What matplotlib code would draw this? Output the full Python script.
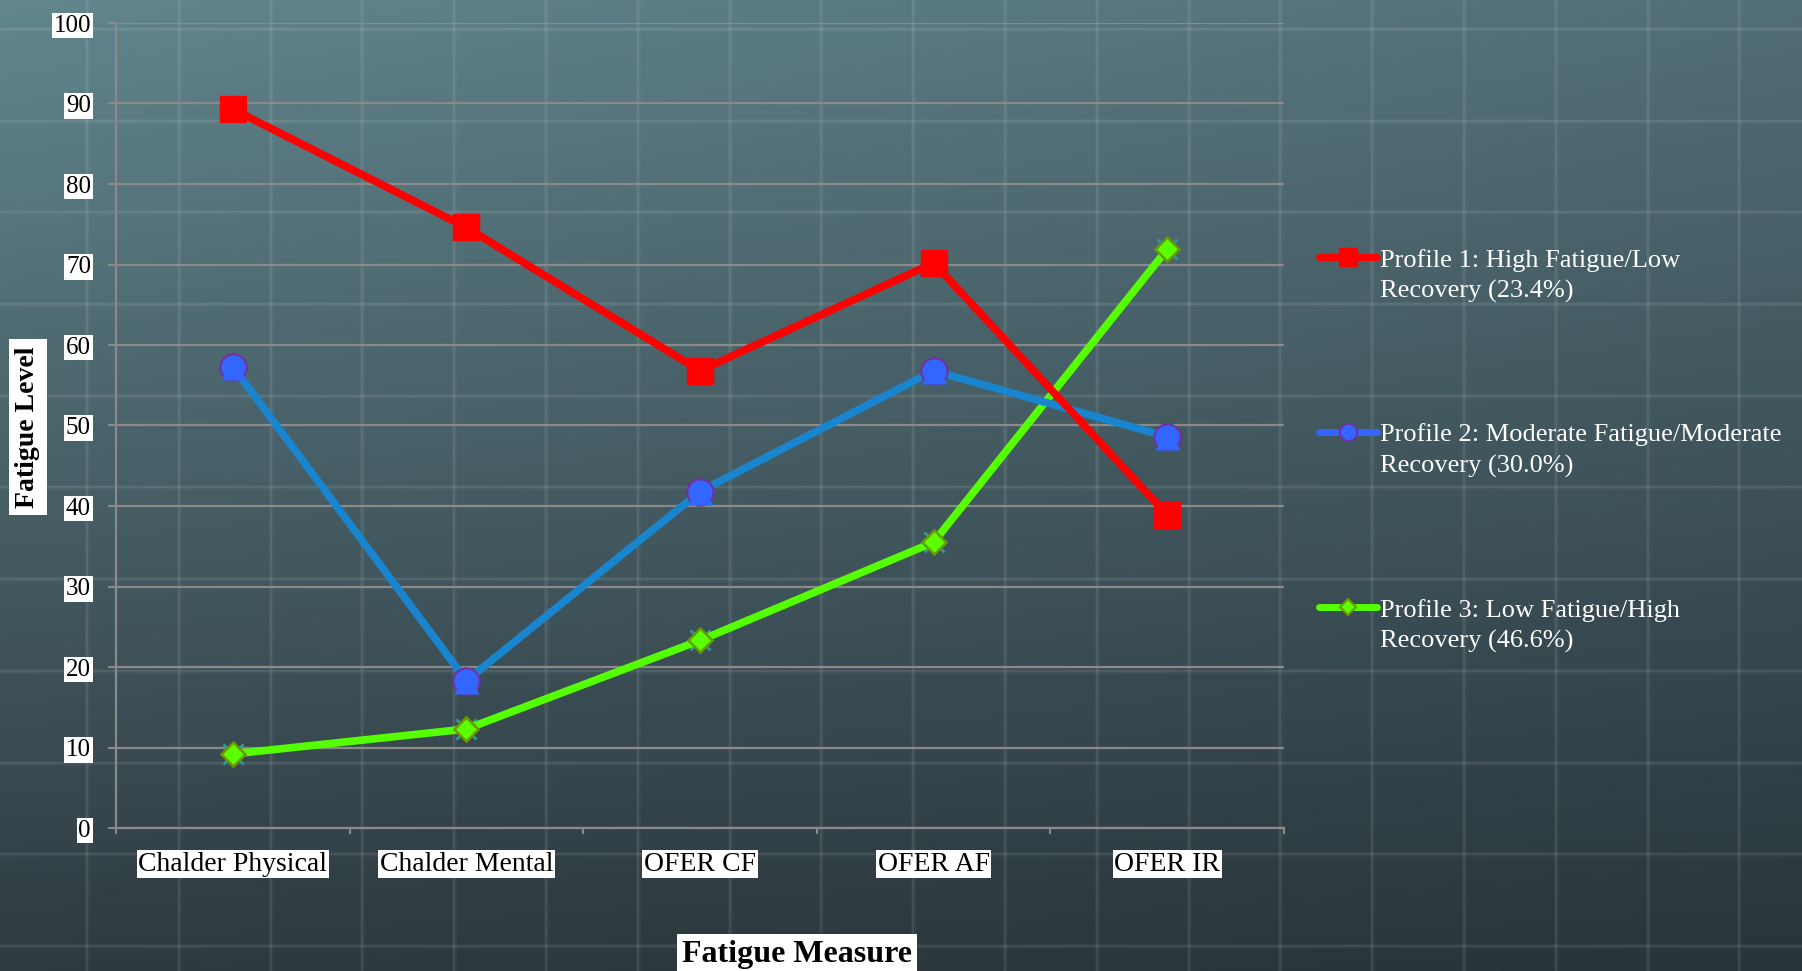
import numpy as np
import matplotlib.pyplot as plt

plt.rcParams['font.family'] = ['Liberation Serif', 'DejaVu Serif']

# Fatigue profile means per measure
categories = ['Chalder Physical', 'Chalder Mental', 'OFER CF', 'OFER AF', 'OFER IR']
profile1 = [89.3, 74.6, 56.8, 70.2, 38.9]
profile2 = [57.3, 18.3, 41.8, 56.8, 48.6]
profile3 = [9.2, 12.3, 23.3, 35.5, 71.9]
labels = ['Profile 1: High Fatigue/Low\nRecovery (23.4%)',
          'Profile 2: Moderate Fatigue/Moderate\nRecovery (30.0%)',
          'Profile 3: Low Fatigue/High\nRecovery (46.6%)']
yticks = list(range(0, 101, 10))

W, H = 1802, 971
fig = plt.figure(figsize=(W / 100, H / 100), dpi=100)

# chalkboard style background, pixel coordinates
bg = fig.add_axes([0, 0, 1, 1])
bg.set_xlim(0, W)
bg.set_ylim(H, 0)
bg.axis('off')
yy, xx = np.mgrid[0:1:H * 1j, 0:1:W * 1j]
tl = np.array([98, 134, 142]) / 255
tr = np.array([82, 110, 118]) / 255
bl = np.array([46, 58, 64]) / 255
br = np.array([40, 52, 58]) / 255
img = ((1 - yy)[..., None] * ((1 - xx)[..., None] * tl + xx[..., None] * tr)
       + yy[..., None] * ((1 - xx)[..., None] * bl + xx[..., None] * br))
bg.imshow(img, extent=(0, W, H, 0), aspect='auto', zorder=0)
for gx in 87 + 91.8 * np.arange(-1, 20):
    bg.axvline(gx, color='white', lw=3.5, alpha=0.035, zorder=1)
    bg.axvline(gx, color='white', lw=1.6, alpha=0.07, zorder=1)
for gy in 29 + 91.7 * np.arange(-1, 11):
    bg.axhline(gy, color='white', lw=3.5, alpha=0.035, zorder=1)
    bg.axhline(gy, color='white', lw=1.6, alpha=0.07, zorder=1)

ax = fig.add_axes([116 / W, 1 - 828 / H, 1168 / W, 805 / H])
ax.set_facecolor('none')
x = np.arange(len(categories))

gray = '#8c8989'
ax.set_xlim(-0.5, len(categories) - 0.5)
ax.set_ylim(0, 100)
ax.set_yticks(yticks)
ax.set_xticks(x)
ax.set_xticklabels(categories)
ax.set_xticks(np.arange(len(categories) + 1) - 0.5, minor=True)
ax.yaxis.grid(True, color=gray, lw=1.6)
ax.set_axisbelow(True)
for s in ['top', 'right']:
    ax.spines[s].set_visible(False)
for s in ['left', 'bottom']:
    ax.spines[s].set_color(gray)
    ax.spines[s].set_linewidth(1.6)
ax.tick_params(axis='y', length=6, width=1.5, color=gray, pad=12, labelsize=18)
ax.tick_params(axis='x', which='major', length=0, pad=17, labelsize=20)
ax.tick_params(axis='x', which='minor', length=4.5, width=1.5, color=gray)
for t in ax.get_xticklabels() + ax.get_yticklabels():
    t.set_bbox(dict(facecolor='white', edgecolor='none', pad=1.2))

# series
ax.plot(x, profile1, color='#ff0000', lw=5.5, marker='s', ms=19,
        mfc='#ff0000', mec='#ff0000', zorder=5)
ax.plot(x, profile2, color='#1985cf', lw=5.5, zorder=4)
ax.plot(x, profile2, ls='none', marker='o', ms=19, mfc='#3366ff',
        mec='#7030a0', mew=1.5, zorder=4)
ax.plot(x, profile2, ls='none', marker='^', ms=18, mfc='#3366ff',
        mec='none', zorder=4)
ax.plot(x, profile3, ls='none', marker='x', ms=15, mec='#2a9a9a', mew=2, zorder=3)
ax.plot(x, profile3, color='#55ff00', lw=5.5, zorder=3)
ax.plot(x, profile3, ls='none', marker='D', ms=12.5, mfc='#5cff00',
        mec='#6a9a00', mew=1.8, zorder=3)

# axis titles
fig.text(28 / W, 1 - 427 / H, 'Fatigue Level', rotation=90, ha='center', va='center',
         fontsize=20, fontweight='bold',
         bbox=dict(facecolor='white', edgecolor='none', pad=5))
fig.text(797 / W, 1 - 954 / H, 'Fatigue Measure', ha='center', va='center',
         fontsize=23, fontweight='bold',
         bbox=dict(facecolor='white', edgecolor='none', pad=4))

# legend
styles = [
    [dict(marker='s', ms=13, mfc='#ff0000', mec='#ff0000')],
    [dict(marker='o', ms=12.5, mfc='#3366ff', mec='#7030a0', mew=1.5)],
    [dict(marker='D', ms=8.5, mfc='#5cff00', mec='#6a9a00', mew=1.5)],
]
colors = ['#ff0000', '#3366ff', '#55ff00']
for i, (lab, col, st) in enumerate(zip(labels, colors, styles)):
    hy = 257 + 175 * i
    bg.plot([1319, 1377], [hy, hy], color=col, lw=5, solid_capstyle='round', zorder=3)
    for kw in st:
        bg.plot([1348], [hy], ls='none', zorder=4, **kw)
    for j, line in enumerate(lab.split('\n')):
        bg.text(1380, hy + 9.5 + 31 * j, line, color='white', fontsize=19,
                ha='left', va='baseline', zorder=4)

fig.savefig('out.png', dpi=100)
